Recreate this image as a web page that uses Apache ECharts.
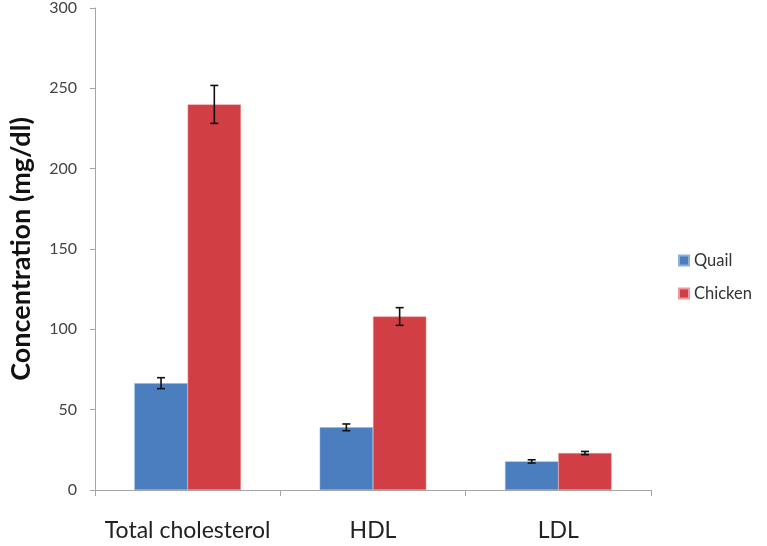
<!DOCTYPE html>
<html><head><meta charset="utf-8">
<script src="https://cdn.jsdelivr.net/npm/echarts@6/dist/echarts.min.js"></script>
<style>html,body{margin:0;padding:0;background:#fff}#c{width:767px;height:546px}</style>
</head><body><div id="c"></div>
<script>
const categories = ['Total cholesterol', 'HDL', 'LDL'];
const quail = [66.5, 39, 17.8];
const quailErr = [3.4, 2.1, 1.0];
const chicken = [240, 108, 23];
const chickenErr = [11.8, 5.5, 1.0];
const yTicks = [0, 50, 100, 150, 200, 250, 300];

const GAP = 0.425;
const chart = echarts.init(document.getElementById('c'));
const font = 'Lato, "Open Sans", sans-serif';

function errSeries(vals, errs, idx) {
  return {
    type: 'custom',
    name: idx === 0 ? 'QuailErr' : 'ChickenErr',
    z: 10,
    data: vals.map((v, i) => [i, v, errs[i]]),
    renderItem: function (params, api) {
      const ci = api.value(0), v = api.value(1), e = api.value(2);
      const size = api.size([1, 0]);
      const bw = size[0] * (1 - GAP) / 2;
      const center = api.coord([ci, v]);
      const x = center[0] + (idx === 0 ? -bw / 2 : bw / 2);
      const top = api.coord([ci, v + e])[1];
      const bot = api.coord([ci, v - e])[1];
      const cap = 4;
      const style = { stroke: '#111', lineWidth: 1.6 };
      return {
        type: 'group',
        children: [
          { type: 'line', shape: { x1: x, y1: top, x2: x, y2: bot }, style },
          { type: 'line', shape: { x1: x - cap, y1: top, x2: x + cap, y2: top }, style },
          { type: 'line', shape: { x1: x - cap, y1: bot, x2: x + cap, y2: bot }, style }
        ]
      };
    }
  };
}

chart.setOption({
  animation: false,
  grid: { left: 93, right: 116, top: 6, bottom: 56 },
  legend: {
    orient: 'vertical',
    left: 673, top: 247,
    itemWidth: 10, itemHeight: 10, itemGap: 16,
    icon: 'rect',
    data: ['Quail', 'Chicken'],
    textStyle: { fontFamily: font, fontSize: 16.5, color: '#333' }
  },
  xAxis: {
    type: 'category',
    data: categories,
    axisLine: { lineStyle: { color: '#a6a6a6', width: 1 } },
    axisTick: { show: true, length: 6, lineStyle: { color: '#a6a6a6' } },
    axisLabel: { interval: 0, fontFamily: font, fontSize: 23, color: '#222', margin: 29 }
  },
  yAxis: {
    type: 'value',
    min: 0, max: 300, interval: 50,
    name: 'Concentration (mg/dl)',
    nameLocation: 'middle',
    nameGap: 60,
    nameTextStyle: { fontFamily: font, fontSize: 27, fontWeight: 'bold', color: '#111' },
    axisLine: { show: true, lineStyle: { color: '#a6a6a6', width: 1 } },
    axisTick: { show: true, length: 5, lineStyle: { color: '#a6a6a6' } },
    splitLine: { show: false },
    axisLabel: { fontFamily: font, fontSize: 16, color: '#444', margin: 18,
      formatter: v => yTicks.includes(v) ? String(v) : '' }
  },
  series: [
    { name: 'Quail', type: 'bar', data: quail, barCategoryGap: (GAP * 100) + '%', barGap: '0%',
      itemStyle: { color: '#4A7EBF', borderColor: '#8fb0da', borderWidth: 0.5 } },
    { name: 'Chicken', type: 'bar', data: chicken, barCategoryGap: (GAP * 100) + '%', barGap: '0%',
      itemStyle: { color: '#D13F45', borderColor: '#e89a9c', borderWidth: 0.5 } },
    errSeries(quail, quailErr, 0),
    errSeries(chicken, chickenErr, 1)
  ]
});
</script></body></html>
